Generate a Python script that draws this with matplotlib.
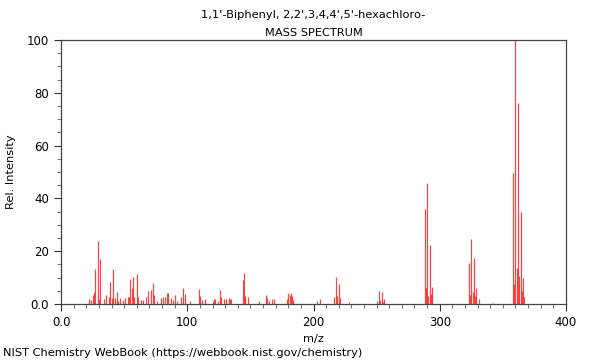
import matplotlib
matplotlib.use("Agg")
import matplotlib.pyplot as plt
from matplotlib.ticker import MultipleLocator, FuncFormatter

# peaks (m/z, relative intensity)
mz = [22, 24, 25, 26, 27, 29, 30, 31, 34, 36, 38, 39, 40, 41, 43, 44, 45,
      47, 49, 51, 53, 54, 55, 56, 57, 58, 60, 61, 63, 65, 67, 69, 71, 73,
      74, 76, 79, 81, 82, 84, 85, 87, 89, 90, 92, 95, 97, 98, 102, 109, 110,
      112, 114, 120, 121, 122, 124, 126, 127, 129, 131, 133, 134, 135,
      144, 145, 146, 148, 157, 162, 163, 165, 167, 169, 179, 180, 181, 182,
      183, 184, 203, 205, 216, 218, 219, 220, 221, 228,
      250, 252, 253, 254, 255, 256,
      288, 289, 290, 291, 292, 293, 294,
      323, 324, 325, 326, 327, 328, 329, 331, 342,
      358, 359, 360, 361, 362, 363, 364, 365, 366, 367]
intensity = [1.8, 1.4, 3.4, 4.7, 13.1, 24.0, 2.0, 16.9, 1.8, 3.4, 2.8, 8.2,
             2.4, 13.3, 2.3, 4.5, 1.1, 2.2, 1.6, 2.2, 2.8, 2.5, 9.3, 6.0,
             10.4, 2.8, 11.2, 2.8, 1.5, 1.5, 2.8, 5.0, 5.2, 8.0, 3.4, 1.0,
             2.2, 2.8, 2.8, 4.0, 4.3, 2.2, 1.5, 3.4, 1.0, 2.8, 6.0, 3.8, 1.0,
             5.7, 3.0, 1.5, 2.0, 1.2, 2.0, 1.9, 1.1, 5.2, 2.8, 1.9, 1.9, 2.2,
             1.8, 1.8, 9.1, 11.6, 3.2, 2.7, 1.3, 3.3, 2.3, 1.2, 2.0, 2.0,
             2.0, 4.3, 3.5, 4.3, 3.0, 1.5, 1.0, 2.0, 2.6, 10.4, 3.0, 7.6,
             2.3, 0.7,
             1.0, 4.8, 1.5, 4.5, 0.8, 2.0,
             35.9, 5.9, 45.7, 3.0, 22.2, 3.8, 6.4,
             15.4, 3.4, 24.6, 4.7, 17.3, 3.0, 6.0, 1.9, 0.5,
             49.5, 7.5, 100.0, 13.5, 76.0, 10.5, 35.0, 5.0, 9.8, 2.8]

title = "1,1'-Biphenyl, 2,2',3,4,4',5'-hexachloro-\nMASS SPECTRUM"
footer = "NIST Chemistry WebBook (https://webbook.nist.gov/chemistry)"

fig = plt.figure(figsize=(6, 3.6), dpi=100)
ax = fig.add_axes([0.1017, 0.1556, 0.8416, 0.7333])

ax.vlines(mz, 0, intensity, colors="#ff2020", linewidth=0.85, alpha=0.85)

ax.set_xlim(0, 400)
ax.set_ylim(0, 100)
ax.xaxis.set_major_locator(MultipleLocator(100))
ax.xaxis.set_minor_locator(MultipleLocator(10))
ax.yaxis.set_major_locator(MultipleLocator(20))
ax.yaxis.set_minor_locator(MultipleLocator(5))
fmt = FuncFormatter(lambda v, p: "0.0" if v == 0 else "%d" % v)
ax.xaxis.set_major_formatter(fmt)
ax.yaxis.set_major_formatter(fmt)
ax.tick_params(which="major", length=5, width=0.8, labelsize=8.5, colors="#333333",
               labelcolor="black")
ax.tick_params(which="minor", length=3, width=0.6, colors="#555555")
for s in ax.spines.values():
    s.set_color("#444444")
    s.set_linewidth(0.9)

ax.set_xlabel("m/z", fontsize=8.2, labelpad=4)
ax.set_ylabel("Rel. Intensity", fontsize=8.2, labelpad=8)
ax.set_title(title, fontsize=8.2, linespacing=1.95, pad=3)
fig.text(0.005, 0.02, footer, fontsize=8.2, ha="left", va="center")

fig.savefig("out.png", dpi=100)
